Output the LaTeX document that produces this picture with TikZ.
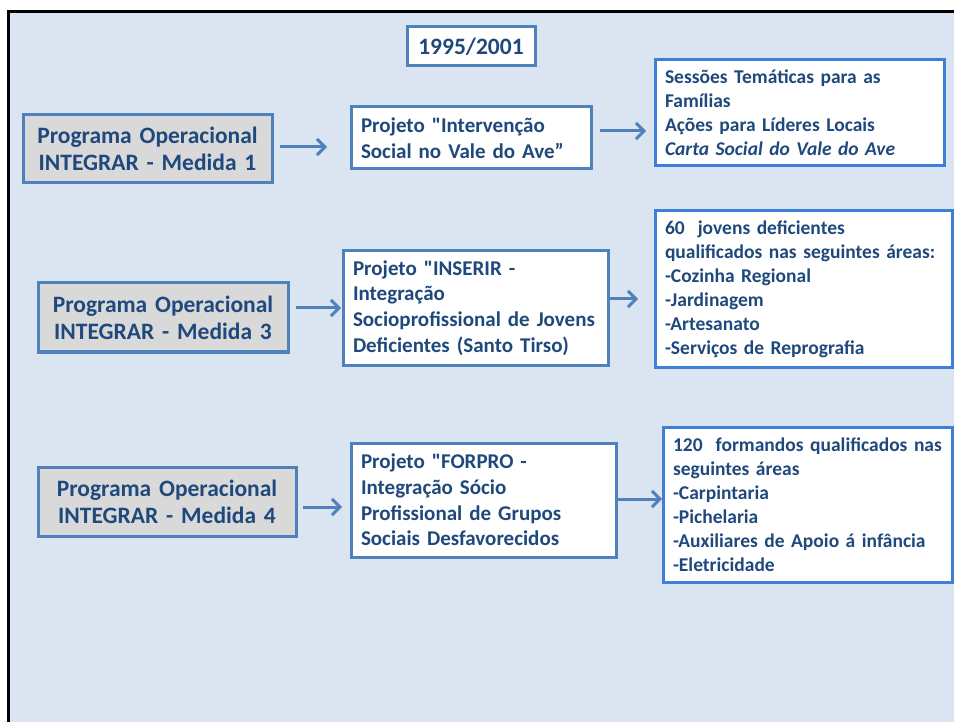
\documentclass[tikz,border=0pt]{standalone}
\usepackage{fontspec}
\setmainfont{Carlito}[Ligatures=TeXOff]
\usepackage{xcolor}
\usetikzlibrary{positioning,arrows.meta}
\definecolor{bgblue}{HTML}{DBE5F1}
\definecolor{txtblue}{HTML}{1F497D}
\definecolor{boxblue}{HTML}{4F81BD}
\definecolor{brightblue}{HTML}{3D7FD9}
\definecolor{boxgrey}{HTML}{D9D9D9}
\tikzset{
  box/.style={draw=boxblue, fill=white, line width=3pt, anchor=north west, outer sep=0pt,
    inner xsep=10pt, inner ysep=0pt, text=txtblue, align=left},
  medida/.style={box, fill=boxgrey, align=center, font=\fontsize{23.5}{27}\selectfont\bfseries},
  projeto/.style={box, font=\fontsize{21}{25.7}\selectfont\bfseries},
  result/.style={box, draw=brightblue, font=\fontsize{19.5}{24}\selectfont\bfseries},
  arr/.style={draw=boxblue, line width=3pt, -{Straight Barb[length=8pt,width=16pt]}}
}
\begin{document}
\begin{tikzpicture}[x=1pt, y=-1pt]
  \useasboundingbox (0,0) rectangle (954,722);
  \fill[bgblue] (8,12) rectangle (954,722);
  \draw[line width=3pt] (954,12) -- (8,12) -- (8,722);

  \node[box, align=center, text width=108pt, minimum height=39pt, font=\fontsize{23.5}{27}\selectfont\bfseries] (year) at (407,27) {1995/2001};

  % Medida 1
  \node[medida, text width=229pt, minimum height=68pt] (m1) at (23,115) {Programa Operacional\\INTEGRAR - Medida 1};
  \node[projeto, text width=220pt, minimum height=62pt] (p1) at (351,107) {Projeto "Intervenção\\Social no Vale do Ave”};
  \node[result, text width=269pt, minimum height=106pt] (r1) at (655,60) {Sessões Temáticas para as\\Famílias\\Ações para Líderes Locais\\\textit{Carta Social do Vale do Ave}};

  % Medida 3
  \node[medida, text width=230pt, minimum height=69pt] (m3) at (38,283) {Programa Operacional\\INTEGRAR - Medida 3};
  \node[projeto, text width=245pt, minimum height=114pt] (p3) at (343,251) {Projeto "INSERIR -\\Integração\\Socioprofissional de Jovens\\Deficientes (Santo Tirso)};
  \node[result, text width=277pt, minimum height=156pt] (r3) at (655,211) {60\ \ jovens deficientes\\qualificados nas seguintes áreas:\\-Cozinha Regional\\-Jardinagem\\-Artesanato\\-Serviços de Reprografia};

  % Medida 4
  \node[medida, text width=238pt, minimum height=69pt] (m4) at (38,467) {Programa Operacional\\INTEGRAR - Medida 4};
  \node[projeto, text width=245pt, minimum height=114pt] (p4) at (351,443) {Projeto "FORPRO -\\Integração Sócio\\Profissional de Grupos\\Sociais Desfavorecidos};
  \node[result, text width=269pt, minimum height=155pt] (r4) at (663,427) {120\ \ formandos qualificados nas\\seguintes áreas\\-Carpintaria\\-Pichelaria\\-Auxiliares de Apoio á infância\\-Eletricidade};

  \foreach \from/\to/\gs/\ge/\dy in {m1/p1/8/24/2, p1/r1/9/9/7, m3/p3/8/2/9.5, p3/r3/0/17/9, m4/p4/7/9/-5.5, p4/r4/0/1/1}
    \draw[arr] ([xshift=\gs pt, yshift=\dy pt]\from.east) -- ([xshift=-\ge pt, yshift=\dy pt]\from.east -| \to.west);
\end{tikzpicture}
\end{document}
